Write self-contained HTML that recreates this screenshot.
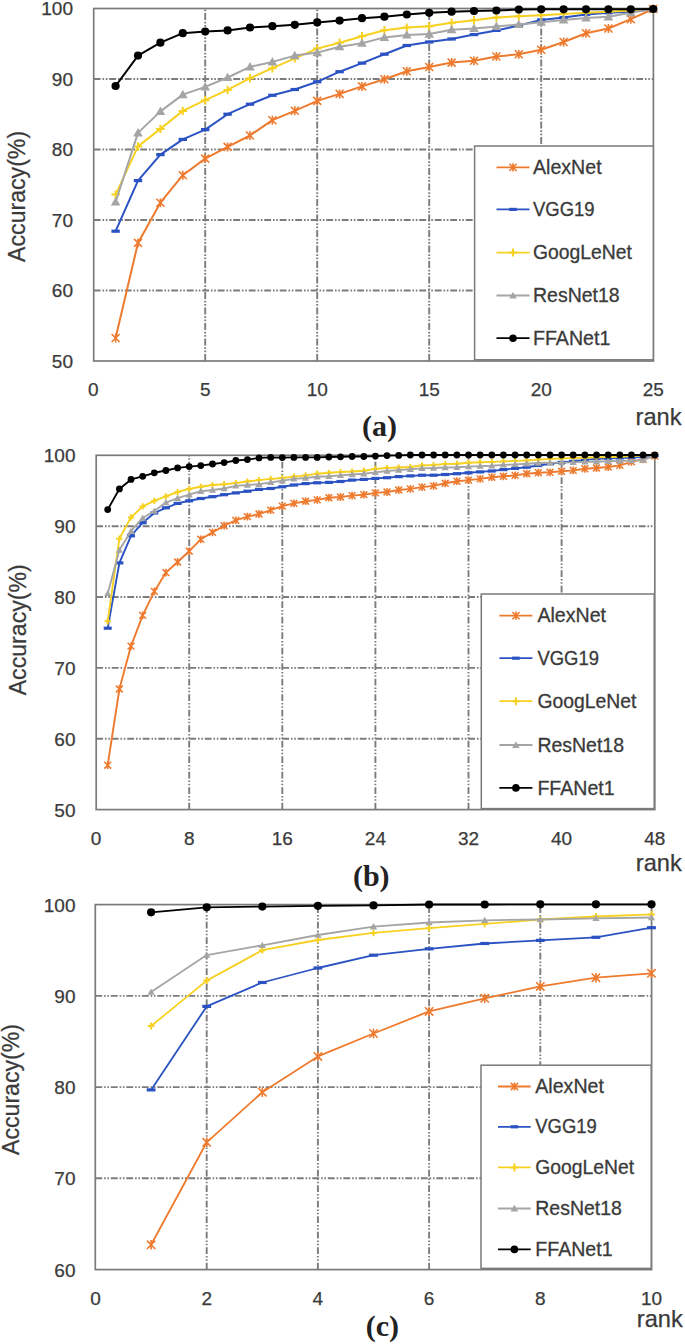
<!DOCTYPE html>
<html><head><meta charset="utf-8"><title>Rank accuracy charts</title><style>
html,body{margin:0;padding:0;background:#fff;}
body{width:685px;height:1344px;overflow:hidden;}
svg{display:block;}
.tk{font-family:"Liberation Sans",sans-serif;font-size:19px;fill:#3a3a3a;stroke:#3a3a3a;stroke-width:0.25px;}
.lg{font-family:"Liberation Sans",sans-serif;font-size:19.8px;fill:#3a3a3a;stroke:#3a3a3a;stroke-width:0.3px;}
.ax{font-family:"Liberation Sans",sans-serif;font-size:24.2px;fill:#3a3a3a;stroke:#3a3a3a;stroke-width:0.25px;}
.rk{font-family:"Liberation Sans",sans-serif;font-size:24px;fill:#3a3a3a;stroke:#3a3a3a;stroke-width:0.25px;}
.cap{font-family:"Liberation Serif",serif;font-size:30px;font-weight:bold;fill:#222;}
</style></head><body>
<svg width="685" height="1344" viewBox="0 0 685 1344">
<rect width="685" height="1344" fill="#fff"/>
<path d="M93.7,79.0H653.4M93.7,149.5H653.4M93.7,220.0H653.4M93.7,290.5H653.4M205.2,361.0V8.5M317.2,361.0V8.5M429.2,361.0V8.5M541.2,361.0V8.5" stroke="#7C7C7C" stroke-width="1.9" stroke-dasharray="6.9 1.9 1.6 1.7 1.6 1.8" fill="none"/>
<rect x="93.7" y="8.5" width="559.7" height="352.5" fill="none" stroke="#7A7A7A" stroke-width="1.7"/>
<polyline points="115.6,338.0 138.0,242.9 160.4,202.7 182.8,175.2 205.2,158.6 227.6,146.9 250.0,135.5 272.4,120.2 294.8,110.8 317.2,100.9 339.6,93.9 362.0,86.4 384.4,79.2 406.8,71.2 429.2,67.0 451.6,62.6 474.0,60.7 496.4,56.5 518.8,54.3 541.2,49.8 563.6,42.0 586.0,33.2 608.4,28.5 630.8,19.2 653.2,9.0" fill="none" stroke="#EE7A2E" stroke-width="2.0" stroke-linejoin="round"/>
<path d="M111.6,334.0L119.6,342.0M111.6,342.0L119.6,334.0M115.6,333.5L115.6,342.5" stroke="#EE7A2E" stroke-width="1.6" fill="none"/>
<path d="M134.0,238.9L142.0,246.9M134.0,246.9L142.0,238.9M138.0,238.4L138.0,247.4" stroke="#EE7A2E" stroke-width="1.6" fill="none"/>
<path d="M156.4,198.7L164.4,206.7M156.4,206.7L164.4,198.7M160.4,198.2L160.4,207.2" stroke="#EE7A2E" stroke-width="1.6" fill="none"/>
<path d="M178.8,171.2L186.8,179.2M178.8,179.2L186.8,171.2M182.8,170.7L182.8,179.7" stroke="#EE7A2E" stroke-width="1.6" fill="none"/>
<path d="M201.2,154.6L209.2,162.6M201.2,162.6L209.2,154.6M205.2,154.1L205.2,163.1" stroke="#EE7A2E" stroke-width="1.6" fill="none"/>
<path d="M223.6,142.9L231.6,150.9M223.6,150.9L231.6,142.9M227.6,142.4L227.6,151.4" stroke="#EE7A2E" stroke-width="1.6" fill="none"/>
<path d="M246.0,131.5L254.0,139.5M246.0,139.5L254.0,131.5M250.0,131.0L250.0,140.0" stroke="#EE7A2E" stroke-width="1.6" fill="none"/>
<path d="M268.4,116.2L276.4,124.2M268.4,124.2L276.4,116.2M272.4,115.7L272.4,124.7" stroke="#EE7A2E" stroke-width="1.6" fill="none"/>
<path d="M290.8,106.8L298.8,114.8M290.8,114.8L298.8,106.8M294.8,106.3L294.8,115.3" stroke="#EE7A2E" stroke-width="1.6" fill="none"/>
<path d="M313.2,96.9L321.2,104.9M313.2,104.9L321.2,96.9M317.2,96.4L317.2,105.4" stroke="#EE7A2E" stroke-width="1.6" fill="none"/>
<path d="M335.6,89.9L343.6,97.9M335.6,97.9L343.6,89.9M339.6,89.4L339.6,98.4" stroke="#EE7A2E" stroke-width="1.6" fill="none"/>
<path d="M358.0,82.4L366.0,90.4M358.0,90.4L366.0,82.4M362.0,81.9L362.0,90.9" stroke="#EE7A2E" stroke-width="1.6" fill="none"/>
<path d="M380.4,75.2L388.4,83.2M380.4,83.2L388.4,75.2M384.4,74.7L384.4,83.7" stroke="#EE7A2E" stroke-width="1.6" fill="none"/>
<path d="M402.8,67.2L410.8,75.2M402.8,75.2L410.8,67.2M406.8,66.7L406.8,75.7" stroke="#EE7A2E" stroke-width="1.6" fill="none"/>
<path d="M425.2,63.0L433.2,71.0M425.2,71.0L433.2,63.0M429.2,62.5L429.2,71.5" stroke="#EE7A2E" stroke-width="1.6" fill="none"/>
<path d="M447.6,58.6L455.6,66.6M447.6,66.6L455.6,58.6M451.6,58.1L451.6,67.1" stroke="#EE7A2E" stroke-width="1.6" fill="none"/>
<path d="M470.0,56.7L478.0,64.7M470.0,64.7L478.0,56.7M474.0,56.2L474.0,65.2" stroke="#EE7A2E" stroke-width="1.6" fill="none"/>
<path d="M492.4,52.5L500.4,60.5M492.4,60.5L500.4,52.5M496.4,52.0L496.4,61.0" stroke="#EE7A2E" stroke-width="1.6" fill="none"/>
<path d="M514.8,50.3L522.8,58.3M514.8,58.3L522.8,50.3M518.8,49.8L518.8,58.8" stroke="#EE7A2E" stroke-width="1.6" fill="none"/>
<path d="M537.2,45.8L545.2,53.8M537.2,53.8L545.2,45.8M541.2,45.3L541.2,54.3" stroke="#EE7A2E" stroke-width="1.6" fill="none"/>
<path d="M559.6,38.0L567.6,46.0M559.6,46.0L567.6,38.0M563.6,37.5L563.6,46.5" stroke="#EE7A2E" stroke-width="1.6" fill="none"/>
<path d="M582.0,29.2L590.0,37.2M582.0,37.2L590.0,29.2M586.0,28.7L586.0,37.7" stroke="#EE7A2E" stroke-width="1.6" fill="none"/>
<path d="M604.4,24.5L612.4,32.5M604.4,32.5L612.4,24.5M608.4,24.0L608.4,33.0" stroke="#EE7A2E" stroke-width="1.6" fill="none"/>
<path d="M626.8,15.2L634.8,23.2M626.8,23.2L634.8,15.2M630.8,14.7L630.8,23.7" stroke="#EE7A2E" stroke-width="1.6" fill="none"/>
<path d="M649.2,5.0L657.2,13.0M649.2,13.0L657.2,5.0M653.2,4.5L653.2,13.5" stroke="#EE7A2E" stroke-width="1.6" fill="none"/>
<polyline points="115.6,231.2 138.0,180.6 160.4,154.6 182.8,139.4 205.2,129.6 227.6,114.2 250.0,104.2 272.4,95.3 294.8,89.5 317.2,81.8 339.6,71.7 362.0,63.1 384.4,54.2 406.8,45.5 429.2,42.0 451.6,39.0 474.0,34.6 496.4,30.4 518.8,25.5 541.2,19.9 563.6,17.5 586.0,14.5 608.4,12.8 630.8,11.7 653.2,9.0" fill="none" stroke="#2A52C3" stroke-width="2.0" stroke-linejoin="round"/>
<rect x="111.4" y="229.6" width="8.4" height="3.2" fill="#2A52C3"/>
<rect x="133.8" y="179.0" width="8.4" height="3.2" fill="#2A52C3"/>
<rect x="156.2" y="153.0" width="8.4" height="3.2" fill="#2A52C3"/>
<rect x="178.6" y="137.8" width="8.4" height="3.2" fill="#2A52C3"/>
<rect x="201.0" y="128.0" width="8.4" height="3.2" fill="#2A52C3"/>
<rect x="223.4" y="112.6" width="8.4" height="3.2" fill="#2A52C3"/>
<rect x="245.8" y="102.6" width="8.4" height="3.2" fill="#2A52C3"/>
<rect x="268.2" y="93.7" width="8.4" height="3.2" fill="#2A52C3"/>
<rect x="290.6" y="87.9" width="8.4" height="3.2" fill="#2A52C3"/>
<rect x="313.0" y="80.2" width="8.4" height="3.2" fill="#2A52C3"/>
<rect x="335.4" y="70.1" width="8.4" height="3.2" fill="#2A52C3"/>
<rect x="357.8" y="61.5" width="8.4" height="3.2" fill="#2A52C3"/>
<rect x="380.2" y="52.6" width="8.4" height="3.2" fill="#2A52C3"/>
<rect x="402.6" y="43.9" width="8.4" height="3.2" fill="#2A52C3"/>
<rect x="425.0" y="40.4" width="8.4" height="3.2" fill="#2A52C3"/>
<rect x="447.4" y="37.4" width="8.4" height="3.2" fill="#2A52C3"/>
<rect x="469.8" y="33.0" width="8.4" height="3.2" fill="#2A52C3"/>
<rect x="492.2" y="28.8" width="8.4" height="3.2" fill="#2A52C3"/>
<rect x="514.6" y="23.9" width="8.4" height="3.2" fill="#2A52C3"/>
<rect x="537.0" y="18.3" width="8.4" height="3.2" fill="#2A52C3"/>
<rect x="559.4" y="15.9" width="8.4" height="3.2" fill="#2A52C3"/>
<rect x="581.8" y="12.9" width="8.4" height="3.2" fill="#2A52C3"/>
<rect x="604.2" y="11.2" width="8.4" height="3.2" fill="#2A52C3"/>
<rect x="626.6" y="10.1" width="8.4" height="3.2" fill="#2A52C3"/>
<rect x="649.0" y="7.4" width="8.4" height="3.2" fill="#2A52C3"/>
<polyline points="115.6,194.6 138.0,146.4 160.4,128.9 182.8,110.9 205.2,100.2 227.6,89.9 250.0,78.2 272.4,68.2 294.8,58.4 317.2,48.6 339.6,42.7 362.0,36.2 384.4,30.2 406.8,27.6 429.2,26.2 451.6,22.7 474.0,20.3 496.4,17.5 518.8,16.2 541.2,15.2 563.6,14.0 586.0,12.8 608.4,11.7 630.8,10.5 653.2,9.0" fill="none" stroke="#F7D122" stroke-width="2.0" stroke-linejoin="round"/>
<path d="M111.4,194.6H119.8M115.6,190.4V198.8" stroke="#F7D122" stroke-width="2" fill="none"/>
<path d="M133.8,146.4H142.2M138.0,142.2V150.6" stroke="#F7D122" stroke-width="2" fill="none"/>
<path d="M156.2,128.9H164.6M160.4,124.7V133.1" stroke="#F7D122" stroke-width="2" fill="none"/>
<path d="M178.6,110.9H187.0M182.8,106.7V115.1" stroke="#F7D122" stroke-width="2" fill="none"/>
<path d="M201.0,100.2H209.4M205.2,96.0V104.4" stroke="#F7D122" stroke-width="2" fill="none"/>
<path d="M223.4,89.9H231.8M227.6,85.7V94.1" stroke="#F7D122" stroke-width="2" fill="none"/>
<path d="M245.8,78.2H254.2M250.0,74.0V82.4" stroke="#F7D122" stroke-width="2" fill="none"/>
<path d="M268.2,68.2H276.6M272.4,64.0V72.4" stroke="#F7D122" stroke-width="2" fill="none"/>
<path d="M290.6,58.4H299.0M294.8,54.2V62.6" stroke="#F7D122" stroke-width="2" fill="none"/>
<path d="M313.0,48.6H321.4M317.2,44.4V52.8" stroke="#F7D122" stroke-width="2" fill="none"/>
<path d="M335.4,42.7H343.8M339.6,38.5V46.9" stroke="#F7D122" stroke-width="2" fill="none"/>
<path d="M357.8,36.2H366.2M362.0,32.0V40.4" stroke="#F7D122" stroke-width="2" fill="none"/>
<path d="M380.2,30.2H388.6M384.4,26.0V34.4" stroke="#F7D122" stroke-width="2" fill="none"/>
<path d="M402.6,27.6H411.0M406.8,23.4V31.8" stroke="#F7D122" stroke-width="2" fill="none"/>
<path d="M425.0,26.2H433.4M429.2,22.0V30.4" stroke="#F7D122" stroke-width="2" fill="none"/>
<path d="M447.4,22.7H455.8M451.6,18.5V26.9" stroke="#F7D122" stroke-width="2" fill="none"/>
<path d="M469.8,20.3H478.2M474.0,16.1V24.5" stroke="#F7D122" stroke-width="2" fill="none"/>
<path d="M492.2,17.5H500.6M496.4,13.3V21.7" stroke="#F7D122" stroke-width="2" fill="none"/>
<path d="M514.6,16.2H523.0M518.8,12.0V20.4" stroke="#F7D122" stroke-width="2" fill="none"/>
<path d="M537.0,15.2H545.4M541.2,11.0V19.4" stroke="#F7D122" stroke-width="2" fill="none"/>
<path d="M559.4,14.0H567.8M563.6,9.8V18.2" stroke="#F7D122" stroke-width="2" fill="none"/>
<path d="M581.8,12.8H590.2M586.0,8.6V17.0" stroke="#F7D122" stroke-width="2" fill="none"/>
<path d="M604.2,11.7H612.6M608.4,7.5V15.9" stroke="#F7D122" stroke-width="2" fill="none"/>
<path d="M626.6,10.5H635.0M630.8,6.3V14.7" stroke="#F7D122" stroke-width="2" fill="none"/>
<path d="M649.0,9.0H657.4M653.2,4.8V13.2" stroke="#F7D122" stroke-width="2" fill="none"/>
<polyline points="115.6,202.0 138.0,132.9 160.4,111.4 182.8,94.6 205.2,86.9 227.6,77.5 250.0,66.8 272.4,61.9 294.8,55.6 317.2,52.6 339.6,46.7 362.0,43.2 384.4,37.4 406.8,35.0 429.2,34.1 451.6,29.7 474.0,28.5 496.4,26.4 518.8,24.5 541.2,22.2 563.6,19.9 586.0,18.0 608.4,16.8 630.8,12.8 653.2,9.0" fill="none" stroke="#A5A5A5" stroke-width="2.0" stroke-linejoin="round"/>
<path d="M115.6,197.2L120.4,205.6L110.8,205.6Z" fill="#A5A5A5"/>
<path d="M138.0,128.1L142.8,136.5L133.2,136.5Z" fill="#A5A5A5"/>
<path d="M160.4,106.6L165.2,115.0L155.6,115.0Z" fill="#A5A5A5"/>
<path d="M182.8,89.8L187.6,98.2L178.0,98.2Z" fill="#A5A5A5"/>
<path d="M205.2,82.1L210.0,90.5L200.4,90.5Z" fill="#A5A5A5"/>
<path d="M227.6,72.7L232.4,81.1L222.8,81.1Z" fill="#A5A5A5"/>
<path d="M250.0,62.0L254.8,70.4L245.2,70.4Z" fill="#A5A5A5"/>
<path d="M272.4,57.1L277.2,65.5L267.6,65.5Z" fill="#A5A5A5"/>
<path d="M294.8,50.8L299.6,59.2L290.0,59.2Z" fill="#A5A5A5"/>
<path d="M317.2,47.8L322.0,56.2L312.4,56.2Z" fill="#A5A5A5"/>
<path d="M339.6,41.9L344.4,50.3L334.8,50.3Z" fill="#A5A5A5"/>
<path d="M362.0,38.4L366.8,46.8L357.2,46.8Z" fill="#A5A5A5"/>
<path d="M384.4,32.6L389.2,41.0L379.6,41.0Z" fill="#A5A5A5"/>
<path d="M406.8,30.2L411.6,38.6L402.0,38.6Z" fill="#A5A5A5"/>
<path d="M429.2,29.3L434.0,37.7L424.4,37.7Z" fill="#A5A5A5"/>
<path d="M451.6,24.9L456.4,33.3L446.8,33.3Z" fill="#A5A5A5"/>
<path d="M474.0,23.7L478.8,32.1L469.2,32.1Z" fill="#A5A5A5"/>
<path d="M496.4,21.6L501.2,30.0L491.6,30.0Z" fill="#A5A5A5"/>
<path d="M518.8,19.7L523.6,28.1L514.0,28.1Z" fill="#A5A5A5"/>
<path d="M541.2,17.4L546.0,25.8L536.4,25.8Z" fill="#A5A5A5"/>
<path d="M563.6,15.1L568.4,23.5L558.8,23.5Z" fill="#A5A5A5"/>
<path d="M586.0,13.2L590.8,21.6L581.2,21.6Z" fill="#A5A5A5"/>
<path d="M608.4,12.0L613.2,20.4L603.6,20.4Z" fill="#A5A5A5"/>
<path d="M630.8,8.0L635.6,16.4L626.0,16.4Z" fill="#A5A5A5"/>
<path d="M653.2,4.2L658.0,12.6L648.4,12.6Z" fill="#A5A5A5"/>
<polyline points="115.6,86.0 138.0,55.6 160.4,42.7 182.8,33.2 205.2,31.5 227.6,30.4 250.0,27.5 272.4,26.2 294.8,24.8 317.2,22.4 339.6,20.6 362.0,18.2 384.4,16.7 406.8,14.5 429.2,12.8 451.6,11.7 474.0,11.0 496.4,10.5 518.8,9.6 541.2,9.3 563.6,9.3 586.0,9.3 608.4,9.3 630.8,9.3 653.2,9.0" fill="none" stroke="#000000" stroke-width="2.0" stroke-linejoin="round"/>
<circle cx="115.6" cy="86.0" r="4.10" fill="#000"/>
<circle cx="138.0" cy="55.6" r="4.10" fill="#000"/>
<circle cx="160.4" cy="42.7" r="4.10" fill="#000"/>
<circle cx="182.8" cy="33.2" r="4.10" fill="#000"/>
<circle cx="205.2" cy="31.5" r="4.10" fill="#000"/>
<circle cx="227.6" cy="30.4" r="4.10" fill="#000"/>
<circle cx="250.0" cy="27.5" r="4.10" fill="#000"/>
<circle cx="272.4" cy="26.2" r="4.10" fill="#000"/>
<circle cx="294.8" cy="24.8" r="4.10" fill="#000"/>
<circle cx="317.2" cy="22.4" r="4.10" fill="#000"/>
<circle cx="339.6" cy="20.6" r="4.10" fill="#000"/>
<circle cx="362.0" cy="18.2" r="4.10" fill="#000"/>
<circle cx="384.4" cy="16.7" r="4.10" fill="#000"/>
<circle cx="406.8" cy="14.5" r="4.10" fill="#000"/>
<circle cx="429.2" cy="12.8" r="4.10" fill="#000"/>
<circle cx="451.6" cy="11.7" r="4.10" fill="#000"/>
<circle cx="474.0" cy="11.0" r="4.10" fill="#000"/>
<circle cx="496.4" cy="10.5" r="4.10" fill="#000"/>
<circle cx="518.8" cy="9.6" r="4.10" fill="#000"/>
<circle cx="541.2" cy="9.3" r="4.10" fill="#000"/>
<circle cx="563.6" cy="9.3" r="4.10" fill="#000"/>
<circle cx="586.0" cy="9.3" r="4.10" fill="#000"/>
<circle cx="608.4" cy="9.3" r="4.10" fill="#000"/>
<circle cx="630.8" cy="9.3" r="4.10" fill="#000"/>
<circle cx="653.2" cy="9.0" r="4.10" fill="#000"/>
<rect x="474.6" y="146" width="178.7" height="213.8" fill="#fff" stroke="#7A7A7A" stroke-width="1.5"/>
<line x1="496.5" y1="167.4" x2="529.5" y2="167.4" stroke="#EE7A2E" stroke-width="1.8"/>
<path d="M509.4,163.8L516.6,171.0M509.4,171.0L516.6,163.8M513.0,163.3L513.0,171.5" stroke="#EE7A2E" stroke-width="1.6" fill="none"/>
<text x="533" y="174.0" class="lg" textLength="68.6" lengthAdjust="spacingAndGlyphs">AlexNet</text>
<line x1="496.5" y1="209.4" x2="529.5" y2="209.4" stroke="#2A52C3" stroke-width="1.8"/>
<rect x="509.2" y="207.8" width="7.6" height="3.2" fill="#2A52C3"/>
<text x="533" y="216.0" class="lg" textLength="61.6" lengthAdjust="spacingAndGlyphs">VGG19</text>
<line x1="496.5" y1="252.6" x2="529.5" y2="252.6" stroke="#F7D122" stroke-width="1.8"/>
<path d="M509.0,252.6H517.0M513.0,248.6V256.6" stroke="#F7D122" stroke-width="2" fill="none"/>
<text x="533" y="259.2" class="lg" textLength="98.9" lengthAdjust="spacingAndGlyphs">GoogLeNet</text>
<line x1="496.5" y1="295.5" x2="529.5" y2="295.5" stroke="#A5A5A5" stroke-width="1.8"/>
<path d="M513.0,291.7L516.8,298.4L509.2,298.4Z" fill="#A5A5A5"/>
<text x="533" y="302.1" class="lg" textLength="86.6" lengthAdjust="spacingAndGlyphs">ResNet18</text>
<line x1="496.5" y1="338.2" x2="529.5" y2="338.2" stroke="#000000" stroke-width="1.8"/>
<circle cx="513.0" cy="338.2" r="3.80" fill="#000"/>
<text x="533" y="344.8" class="lg" textLength="77.3" lengthAdjust="spacingAndGlyphs">FFANet1</text>
<text x="73.0" y="15.4" class="tk" text-anchor="end">100</text>
<text x="73.0" y="85.9" class="tk" text-anchor="end">90</text>
<text x="73.0" y="156.4" class="tk" text-anchor="end">80</text>
<text x="73.0" y="226.9" class="tk" text-anchor="end">70</text>
<text x="73.0" y="297.4" class="tk" text-anchor="end">60</text>
<text x="73.0" y="367.9" class="tk" text-anchor="end">50</text>
<text x="93.2" y="396.2" class="tk" text-anchor="middle">0</text>
<text x="205.2" y="396.2" class="tk" text-anchor="middle">5</text>
<text x="317.2" y="396.2" class="tk" text-anchor="middle">10</text>
<text x="429.2" y="396.2" class="tk" text-anchor="middle">15</text>
<text x="541.2" y="396.2" class="tk" text-anchor="middle">20</text>
<text x="653.2" y="396.2" class="tk" text-anchor="middle">25</text>
<text transform="translate(25.2,196.4) rotate(-90)" class="ax" text-anchor="middle" textLength="131" lengthAdjust="spacingAndGlyphs">Accuracy(%)</text>
<text x="635.6" y="425.1" class="rk" textLength="46" lengthAdjust="spacingAndGlyphs">rank</text>
<text x="362" y="436.3" class="cap">(a)</text>
<path d="M96.2,526.2H654.8M96.2,597.0H654.8M96.2,667.9H654.8M96.2,738.7H654.8M189.2,809.6V455.3M282.3,809.6V455.3M375.4,809.6V455.3M468.5,809.6V455.3M561.6,809.6V455.3" stroke="#7C7C7C" stroke-width="1.9" stroke-dasharray="6.9 1.9 1.6 1.7 1.6 1.8" fill="none"/>
<rect x="96.2" y="455.3" width="558.6" height="354.3" fill="none" stroke="#7A7A7A" stroke-width="1.7"/>
<polyline points="107.7,765.2 119.4,689.0 131.0,646.1 142.7,615.4 154.3,591.4 165.9,572.6 177.6,562.0 189.2,551.2 200.8,539.3 212.5,532.4 224.1,525.7 235.8,520.4 247.4,516.6 259.0,514.0 270.7,510.1 282.3,506.1 293.9,503.4 305.6,501.2 317.2,499.9 328.9,497.7 340.5,497.0 352.1,495.6 363.8,494.7 375.4,492.9 387.0,492.0 398.7,490.0 410.3,488.9 422.0,487.1 433.6,485.9 445.2,483.3 456.9,481.2 468.5,480.1 480.1,478.9 491.8,477.2 503.4,476.3 515.1,475.4 526.7,473.7 538.3,472.7 550.0,472.3 561.6,471.3 573.2,470.4 584.9,468.8 596.5,468.0 608.2,467.0 619.8,465.4 631.4,461.9 643.1,459.3 654.7,456.0" fill="none" stroke="#EE7A2E" stroke-width="1.9" stroke-linejoin="round"/>
<path d="M104.3,761.8L111.1,768.6M104.3,768.6L111.1,761.8M107.7,761.3L107.7,769.1" stroke="#EE7A2E" stroke-width="1.6" fill="none"/>
<path d="M116.0,685.6L122.8,692.4M116.0,692.4L122.8,685.6M119.4,685.1L119.4,692.9" stroke="#EE7A2E" stroke-width="1.6" fill="none"/>
<path d="M127.6,642.7L134.4,649.5M127.6,649.5L134.4,642.7M131.0,642.2L131.0,650.0" stroke="#EE7A2E" stroke-width="1.6" fill="none"/>
<path d="M139.2,612.0L146.1,618.8M139.2,618.8L146.1,612.0M142.7,611.5L142.7,619.3" stroke="#EE7A2E" stroke-width="1.6" fill="none"/>
<path d="M150.9,588.0L157.7,594.8M150.9,594.8L157.7,588.0M154.3,587.5L154.3,595.3" stroke="#EE7A2E" stroke-width="1.6" fill="none"/>
<path d="M162.5,569.2L169.3,576.0M162.5,576.0L169.3,569.2M165.9,568.7L165.9,576.5" stroke="#EE7A2E" stroke-width="1.6" fill="none"/>
<path d="M174.2,558.6L181.0,565.4M174.2,565.4L181.0,558.6M177.6,558.1L177.6,565.9" stroke="#EE7A2E" stroke-width="1.6" fill="none"/>
<path d="M185.8,547.8L192.6,554.6M185.8,554.6L192.6,547.8M189.2,547.3L189.2,555.1" stroke="#EE7A2E" stroke-width="1.6" fill="none"/>
<path d="M197.4,535.9L204.2,542.7M197.4,542.7L204.2,535.9M200.8,535.4L200.8,543.2" stroke="#EE7A2E" stroke-width="1.6" fill="none"/>
<path d="M209.1,529.0L215.9,535.8M209.1,535.8L215.9,529.0M212.5,528.5L212.5,536.3" stroke="#EE7A2E" stroke-width="1.6" fill="none"/>
<path d="M220.7,522.3L227.5,529.1M220.7,529.1L227.5,522.3M224.1,521.8L224.1,529.6" stroke="#EE7A2E" stroke-width="1.6" fill="none"/>
<path d="M232.3,517.0L239.2,523.8M232.3,523.8L239.2,517.0M235.8,516.5L235.8,524.3" stroke="#EE7A2E" stroke-width="1.6" fill="none"/>
<path d="M244.0,513.2L250.8,520.0M244.0,520.0L250.8,513.2M247.4,512.7L247.4,520.5" stroke="#EE7A2E" stroke-width="1.6" fill="none"/>
<path d="M255.6,510.6L262.4,517.4M255.6,517.4L262.4,510.6M259.0,510.1L259.0,517.9" stroke="#EE7A2E" stroke-width="1.6" fill="none"/>
<path d="M267.3,506.7L274.1,513.5M267.3,513.5L274.1,506.7M270.7,506.2L270.7,514.0" stroke="#EE7A2E" stroke-width="1.6" fill="none"/>
<path d="M278.9,502.7L285.7,509.5M278.9,509.5L285.7,502.7M282.3,502.2L282.3,510.0" stroke="#EE7A2E" stroke-width="1.6" fill="none"/>
<path d="M290.5,500.0L297.3,506.8M290.5,506.8L297.3,500.0M293.9,499.5L293.9,507.3" stroke="#EE7A2E" stroke-width="1.6" fill="none"/>
<path d="M302.2,497.8L309.0,504.6M302.2,504.6L309.0,497.8M305.6,497.3L305.6,505.1" stroke="#EE7A2E" stroke-width="1.6" fill="none"/>
<path d="M313.8,496.5L320.6,503.3M313.8,503.3L320.6,496.5M317.2,496.0L317.2,503.8" stroke="#EE7A2E" stroke-width="1.6" fill="none"/>
<path d="M325.5,494.3L332.2,501.1M325.5,501.1L332.2,494.3M328.9,493.8L328.9,501.6" stroke="#EE7A2E" stroke-width="1.6" fill="none"/>
<path d="M337.1,493.6L343.9,500.4M337.1,500.4L343.9,493.6M340.5,493.1L340.5,500.9" stroke="#EE7A2E" stroke-width="1.6" fill="none"/>
<path d="M348.7,492.2L355.5,499.0M348.7,499.0L355.5,492.2M352.1,491.7L352.1,499.5" stroke="#EE7A2E" stroke-width="1.6" fill="none"/>
<path d="M360.4,491.3L367.2,498.1M360.4,498.1L367.2,491.3M363.8,490.8L363.8,498.6" stroke="#EE7A2E" stroke-width="1.6" fill="none"/>
<path d="M372.0,489.5L378.8,496.3M372.0,496.3L378.8,489.5M375.4,489.0L375.4,496.8" stroke="#EE7A2E" stroke-width="1.6" fill="none"/>
<path d="M383.6,488.6L390.4,495.4M383.6,495.4L390.4,488.6M387.0,488.1L387.0,495.9" stroke="#EE7A2E" stroke-width="1.6" fill="none"/>
<path d="M395.3,486.6L402.1,493.4M395.3,493.4L402.1,486.6M398.7,486.1L398.7,493.9" stroke="#EE7A2E" stroke-width="1.6" fill="none"/>
<path d="M406.9,485.5L413.7,492.3M406.9,492.3L413.7,485.5M410.3,485.0L410.3,492.8" stroke="#EE7A2E" stroke-width="1.6" fill="none"/>
<path d="M418.6,483.7L425.4,490.5M418.6,490.5L425.4,483.7M422.0,483.2L422.0,491.0" stroke="#EE7A2E" stroke-width="1.6" fill="none"/>
<path d="M430.2,482.5L437.0,489.3M430.2,489.3L437.0,482.5M433.6,482.0L433.6,489.8" stroke="#EE7A2E" stroke-width="1.6" fill="none"/>
<path d="M441.8,479.9L448.6,486.7M441.8,486.7L448.6,479.9M445.2,479.4L445.2,487.2" stroke="#EE7A2E" stroke-width="1.6" fill="none"/>
<path d="M453.5,477.8L460.3,484.6M453.5,484.6L460.3,477.8M456.9,477.3L456.9,485.1" stroke="#EE7A2E" stroke-width="1.6" fill="none"/>
<path d="M465.1,476.7L471.9,483.5M465.1,483.5L471.9,476.7M468.5,476.2L468.5,484.0" stroke="#EE7A2E" stroke-width="1.6" fill="none"/>
<path d="M476.7,475.5L483.5,482.3M476.7,482.3L483.5,475.5M480.1,475.0L480.1,482.8" stroke="#EE7A2E" stroke-width="1.6" fill="none"/>
<path d="M488.4,473.8L495.2,480.6M488.4,480.6L495.2,473.8M491.8,473.3L491.8,481.1" stroke="#EE7A2E" stroke-width="1.6" fill="none"/>
<path d="M500.0,472.9L506.8,479.7M500.0,479.7L506.8,472.9M503.4,472.4L503.4,480.2" stroke="#EE7A2E" stroke-width="1.6" fill="none"/>
<path d="M511.7,472.0L518.5,478.8M511.7,478.8L518.5,472.0M515.1,471.5L515.1,479.3" stroke="#EE7A2E" stroke-width="1.6" fill="none"/>
<path d="M523.3,470.3L530.1,477.1M523.3,477.1L530.1,470.3M526.7,469.8L526.7,477.6" stroke="#EE7A2E" stroke-width="1.6" fill="none"/>
<path d="M534.9,469.3L541.7,476.1M534.9,476.1L541.7,469.3M538.3,468.8L538.3,476.6" stroke="#EE7A2E" stroke-width="1.6" fill="none"/>
<path d="M546.6,468.9L553.4,475.7M546.6,475.7L553.4,468.9M550.0,468.4L550.0,476.2" stroke="#EE7A2E" stroke-width="1.6" fill="none"/>
<path d="M558.2,467.9L565.0,474.7M558.2,474.7L565.0,467.9M561.6,467.4L561.6,475.2" stroke="#EE7A2E" stroke-width="1.6" fill="none"/>
<path d="M569.8,467.0L576.6,473.8M569.8,473.8L576.6,467.0M573.2,466.5L573.2,474.3" stroke="#EE7A2E" stroke-width="1.6" fill="none"/>
<path d="M581.5,465.4L588.3,472.2M581.5,472.2L588.3,465.4M584.9,464.9L584.9,472.7" stroke="#EE7A2E" stroke-width="1.6" fill="none"/>
<path d="M593.1,464.6L599.9,471.4M593.1,471.4L599.9,464.6M596.5,464.1L596.5,471.9" stroke="#EE7A2E" stroke-width="1.6" fill="none"/>
<path d="M604.8,463.6L611.6,470.4M604.8,470.4L611.6,463.6M608.2,463.1L608.2,470.9" stroke="#EE7A2E" stroke-width="1.6" fill="none"/>
<path d="M616.4,462.0L623.2,468.8M616.4,468.8L623.2,462.0M619.8,461.5L619.8,469.3" stroke="#EE7A2E" stroke-width="1.6" fill="none"/>
<path d="M628.0,458.5L634.8,465.3M628.0,465.3L634.8,458.5M631.4,458.0L631.4,465.8" stroke="#EE7A2E" stroke-width="1.6" fill="none"/>
<path d="M639.7,455.9L646.5,462.7M639.7,462.7L646.5,455.9M643.1,455.4L643.1,463.2" stroke="#EE7A2E" stroke-width="1.6" fill="none"/>
<path d="M651.3,452.6L658.1,459.4M651.3,459.4L658.1,452.6M654.7,452.1L654.7,459.9" stroke="#EE7A2E" stroke-width="1.6" fill="none"/>
<polyline points="107.7,628.2 119.4,562.9 131.0,535.8 142.7,522.7 154.3,513.0 165.9,507.8 177.6,503.4 189.2,500.8 200.8,498.5 212.5,496.7 224.1,494.7 235.8,492.9 247.4,491.2 259.0,489.4 270.7,488.5 282.3,486.8 293.9,485.0 305.6,483.6 317.2,482.8 328.9,482.4 340.5,481.5 352.1,480.1 363.8,479.4 375.4,478.4 387.0,477.7 398.7,476.6 410.3,475.9 422.0,475.2 433.6,475.2 445.2,474.5 456.9,473.7 468.5,472.8 480.1,471.9 491.8,471.0 503.4,469.6 515.1,468.4 526.7,467.2 538.3,465.5 550.0,463.7 561.6,462.4 573.2,461.3 584.9,459.9 596.5,458.7 608.2,458.4 619.8,458.0 631.4,457.5 643.1,456.8 654.7,455.5" fill="none" stroke="#2A52C3" stroke-width="1.9" stroke-linejoin="round"/>
<rect x="103.7" y="626.6" width="8.0" height="3.2" fill="#2A52C3"/>
<rect x="115.4" y="561.3" width="8.0" height="3.2" fill="#2A52C3"/>
<rect x="127.0" y="534.2" width="8.0" height="3.2" fill="#2A52C3"/>
<rect x="138.7" y="521.1" width="8.0" height="3.2" fill="#2A52C3"/>
<rect x="150.3" y="511.4" width="8.0" height="3.2" fill="#2A52C3"/>
<rect x="161.9" y="506.2" width="8.0" height="3.2" fill="#2A52C3"/>
<rect x="173.6" y="501.8" width="8.0" height="3.2" fill="#2A52C3"/>
<rect x="185.2" y="499.2" width="8.0" height="3.2" fill="#2A52C3"/>
<rect x="196.8" y="496.9" width="8.0" height="3.2" fill="#2A52C3"/>
<rect x="208.5" y="495.1" width="8.0" height="3.2" fill="#2A52C3"/>
<rect x="220.1" y="493.1" width="8.0" height="3.2" fill="#2A52C3"/>
<rect x="231.8" y="491.3" width="8.0" height="3.2" fill="#2A52C3"/>
<rect x="243.4" y="489.6" width="8.0" height="3.2" fill="#2A52C3"/>
<rect x="255.0" y="487.8" width="8.0" height="3.2" fill="#2A52C3"/>
<rect x="266.7" y="486.9" width="8.0" height="3.2" fill="#2A52C3"/>
<rect x="278.3" y="485.2" width="8.0" height="3.2" fill="#2A52C3"/>
<rect x="289.9" y="483.4" width="8.0" height="3.2" fill="#2A52C3"/>
<rect x="301.6" y="482.0" width="8.0" height="3.2" fill="#2A52C3"/>
<rect x="313.2" y="481.2" width="8.0" height="3.2" fill="#2A52C3"/>
<rect x="324.9" y="480.8" width="8.0" height="3.2" fill="#2A52C3"/>
<rect x="336.5" y="479.9" width="8.0" height="3.2" fill="#2A52C3"/>
<rect x="348.1" y="478.5" width="8.0" height="3.2" fill="#2A52C3"/>
<rect x="359.8" y="477.8" width="8.0" height="3.2" fill="#2A52C3"/>
<rect x="371.4" y="476.8" width="8.0" height="3.2" fill="#2A52C3"/>
<rect x="383.0" y="476.1" width="8.0" height="3.2" fill="#2A52C3"/>
<rect x="394.7" y="475.0" width="8.0" height="3.2" fill="#2A52C3"/>
<rect x="406.3" y="474.3" width="8.0" height="3.2" fill="#2A52C3"/>
<rect x="418.0" y="473.6" width="8.0" height="3.2" fill="#2A52C3"/>
<rect x="429.6" y="473.6" width="8.0" height="3.2" fill="#2A52C3"/>
<rect x="441.2" y="472.9" width="8.0" height="3.2" fill="#2A52C3"/>
<rect x="452.9" y="472.1" width="8.0" height="3.2" fill="#2A52C3"/>
<rect x="464.5" y="471.2" width="8.0" height="3.2" fill="#2A52C3"/>
<rect x="476.1" y="470.3" width="8.0" height="3.2" fill="#2A52C3"/>
<rect x="487.8" y="469.4" width="8.0" height="3.2" fill="#2A52C3"/>
<rect x="499.4" y="468.0" width="8.0" height="3.2" fill="#2A52C3"/>
<rect x="511.1" y="466.8" width="8.0" height="3.2" fill="#2A52C3"/>
<rect x="522.7" y="465.6" width="8.0" height="3.2" fill="#2A52C3"/>
<rect x="534.3" y="463.9" width="8.0" height="3.2" fill="#2A52C3"/>
<rect x="546.0" y="462.1" width="8.0" height="3.2" fill="#2A52C3"/>
<rect x="557.6" y="460.8" width="8.0" height="3.2" fill="#2A52C3"/>
<rect x="569.2" y="459.7" width="8.0" height="3.2" fill="#2A52C3"/>
<rect x="580.9" y="458.3" width="8.0" height="3.2" fill="#2A52C3"/>
<rect x="592.5" y="457.1" width="8.0" height="3.2" fill="#2A52C3"/>
<rect x="604.2" y="456.8" width="8.0" height="3.2" fill="#2A52C3"/>
<rect x="615.8" y="456.4" width="8.0" height="3.2" fill="#2A52C3"/>
<rect x="627.4" y="455.9" width="8.0" height="3.2" fill="#2A52C3"/>
<rect x="639.1" y="455.2" width="8.0" height="3.2" fill="#2A52C3"/>
<rect x="650.7" y="453.9" width="8.0" height="3.2" fill="#2A52C3"/>
<polyline points="107.7,621.2 119.4,538.7 131.0,517.4 142.7,506.4 154.3,500.8 165.9,496.4 177.6,492.0 189.2,488.9 200.8,486.8 212.5,485.0 224.1,484.2 235.8,483.0 247.4,481.5 259.0,480.1 270.7,478.9 282.3,478.0 293.9,476.6 305.6,475.4 317.2,473.7 328.9,472.8 340.5,472.0 352.1,471.5 363.8,470.7 375.4,468.9 387.0,468.0 398.7,467.5 410.3,467.0 422.0,465.4 433.6,465.0 445.2,464.0 456.9,463.8 468.5,462.8 480.1,462.3 491.8,461.9 503.4,461.4 515.1,460.9 526.7,460.5 538.3,459.6 550.0,459.0 561.6,458.4 573.2,458.0 584.9,457.7 596.5,457.3 608.2,457.1 619.8,456.7 631.4,456.1 643.1,455.6 654.7,455.0" fill="none" stroke="#F7D122" stroke-width="1.9" stroke-linejoin="round"/>
<path d="M104.6,621.2H110.9M107.7,618.1V624.4" stroke="#F7D122" stroke-width="2" fill="none"/>
<path d="M116.2,538.7H122.5M119.4,535.6V541.9" stroke="#F7D122" stroke-width="2" fill="none"/>
<path d="M127.9,517.4H134.2M131.0,514.2V520.5" stroke="#F7D122" stroke-width="2" fill="none"/>
<path d="M139.5,506.4H145.8M142.7,503.2V509.5" stroke="#F7D122" stroke-width="2" fill="none"/>
<path d="M151.1,500.8H157.4M154.3,497.7V503.9" stroke="#F7D122" stroke-width="2" fill="none"/>
<path d="M162.8,496.4H169.1M165.9,493.2V499.5" stroke="#F7D122" stroke-width="2" fill="none"/>
<path d="M174.4,492.0H180.7M177.6,488.9V495.1" stroke="#F7D122" stroke-width="2" fill="none"/>
<path d="M186.0,488.9H192.3M189.2,485.8V492.0" stroke="#F7D122" stroke-width="2" fill="none"/>
<path d="M197.7,486.8H204.0M200.8,483.7V489.9" stroke="#F7D122" stroke-width="2" fill="none"/>
<path d="M209.3,485.0H215.6M212.5,481.9V488.1" stroke="#F7D122" stroke-width="2" fill="none"/>
<path d="M221.0,484.2H227.3M224.1,481.1V487.3" stroke="#F7D122" stroke-width="2" fill="none"/>
<path d="M232.6,483.0H238.9M235.8,479.9V486.1" stroke="#F7D122" stroke-width="2" fill="none"/>
<path d="M244.2,481.5H250.5M247.4,478.4V484.6" stroke="#F7D122" stroke-width="2" fill="none"/>
<path d="M255.9,480.1H262.2M259.0,477.0V483.2" stroke="#F7D122" stroke-width="2" fill="none"/>
<path d="M267.5,478.9H273.8M270.7,475.8V482.0" stroke="#F7D122" stroke-width="2" fill="none"/>
<path d="M279.2,478.0H285.4M282.3,474.9V481.1" stroke="#F7D122" stroke-width="2" fill="none"/>
<path d="M290.8,476.6H297.1M293.9,473.5V479.8" stroke="#F7D122" stroke-width="2" fill="none"/>
<path d="M302.4,475.4H308.7M305.6,472.2V478.5" stroke="#F7D122" stroke-width="2" fill="none"/>
<path d="M314.1,473.7H320.4M317.2,470.6V476.8" stroke="#F7D122" stroke-width="2" fill="none"/>
<path d="M325.7,472.8H332.0M328.9,469.7V475.9" stroke="#F7D122" stroke-width="2" fill="none"/>
<path d="M337.3,472.0H343.6M340.5,468.9V475.1" stroke="#F7D122" stroke-width="2" fill="none"/>
<path d="M349.0,471.5H355.3M352.1,468.4V474.6" stroke="#F7D122" stroke-width="2" fill="none"/>
<path d="M360.6,470.7H366.9M363.8,467.6V473.8" stroke="#F7D122" stroke-width="2" fill="none"/>
<path d="M372.2,468.9H378.5M375.4,465.8V472.0" stroke="#F7D122" stroke-width="2" fill="none"/>
<path d="M383.9,468.0H390.2M387.0,464.9V471.1" stroke="#F7D122" stroke-width="2" fill="none"/>
<path d="M395.5,467.5H401.8M398.7,464.4V470.6" stroke="#F7D122" stroke-width="2" fill="none"/>
<path d="M407.2,467.0H413.5M410.3,463.9V470.1" stroke="#F7D122" stroke-width="2" fill="none"/>
<path d="M418.8,465.4H425.1M422.0,462.2V468.5" stroke="#F7D122" stroke-width="2" fill="none"/>
<path d="M430.4,465.0H436.7M433.6,461.9V468.1" stroke="#F7D122" stroke-width="2" fill="none"/>
<path d="M442.1,464.0H448.4M445.2,460.9V467.1" stroke="#F7D122" stroke-width="2" fill="none"/>
<path d="M453.7,463.8H460.0M456.9,460.7V466.9" stroke="#F7D122" stroke-width="2" fill="none"/>
<path d="M465.4,462.8H471.6M468.5,459.7V465.9" stroke="#F7D122" stroke-width="2" fill="none"/>
<path d="M477.0,462.3H483.3M480.1,459.2V465.4" stroke="#F7D122" stroke-width="2" fill="none"/>
<path d="M488.6,461.9H494.9M491.8,458.8V465.0" stroke="#F7D122" stroke-width="2" fill="none"/>
<path d="M500.3,461.4H506.6M503.4,458.2V464.5" stroke="#F7D122" stroke-width="2" fill="none"/>
<path d="M511.9,460.9H518.2M515.1,457.8V464.0" stroke="#F7D122" stroke-width="2" fill="none"/>
<path d="M523.5,460.5H529.8M526.7,457.4V463.6" stroke="#F7D122" stroke-width="2" fill="none"/>
<path d="M535.2,459.6H541.5M538.3,456.5V462.8" stroke="#F7D122" stroke-width="2" fill="none"/>
<path d="M546.8,459.0H553.1M550.0,455.9V462.1" stroke="#F7D122" stroke-width="2" fill="none"/>
<path d="M558.5,458.4H564.8M561.6,455.2V461.5" stroke="#F7D122" stroke-width="2" fill="none"/>
<path d="M570.1,458.0H576.4M573.2,454.9V461.1" stroke="#F7D122" stroke-width="2" fill="none"/>
<path d="M581.7,457.7H588.0M584.9,454.6V460.8" stroke="#F7D122" stroke-width="2" fill="none"/>
<path d="M593.4,457.3H599.7M596.5,454.2V460.4" stroke="#F7D122" stroke-width="2" fill="none"/>
<path d="M605.0,457.1H611.3M608.2,454.0V460.2" stroke="#F7D122" stroke-width="2" fill="none"/>
<path d="M616.6,456.7H622.9M619.8,453.6V459.8" stroke="#F7D122" stroke-width="2" fill="none"/>
<path d="M628.3,456.1H634.6M631.4,453.0V459.2" stroke="#F7D122" stroke-width="2" fill="none"/>
<path d="M639.9,455.6H646.2M643.1,452.5V458.8" stroke="#F7D122" stroke-width="2" fill="none"/>
<path d="M651.6,455.0H657.9M654.7,451.9V458.1" stroke="#F7D122" stroke-width="2" fill="none"/>
<polyline points="107.7,593.6 119.4,550.1 131.0,531.2 142.7,518.0 154.3,511.0 165.9,502.6 177.6,498.2 189.2,494.7 200.8,491.2 212.5,490.0 224.1,488.5 235.8,485.9 247.4,485.0 259.0,484.2 270.7,482.4 282.3,480.7 293.9,478.9 305.6,478.0 317.2,476.8 328.9,476.3 340.5,475.4 352.1,474.5 363.8,473.7 375.4,472.4 387.0,471.0 398.7,470.1 410.3,469.3 422.0,468.4 433.6,468.0 445.2,467.5 456.9,467.2 468.5,466.6 480.1,466.1 491.8,465.8 503.4,464.9 515.1,464.4 526.7,463.7 538.3,463.0 550.0,462.8 561.6,462.6 573.2,462.4 584.9,461.8 596.5,461.8 608.2,461.3 619.8,461.0 631.4,460.6 643.1,460.0 654.7,455.5" fill="none" stroke="#A5A5A5" stroke-width="1.9" stroke-linejoin="round"/>
<path d="M107.7,590.0L111.3,596.3L104.1,596.3Z" fill="#A5A5A5"/>
<path d="M119.4,546.5L123.0,552.8L115.8,552.8Z" fill="#A5A5A5"/>
<path d="M131.0,527.6L134.6,533.9L127.4,533.9Z" fill="#A5A5A5"/>
<path d="M142.7,514.4L146.2,520.7L139.1,520.7Z" fill="#A5A5A5"/>
<path d="M154.3,507.4L157.9,513.7L150.7,513.7Z" fill="#A5A5A5"/>
<path d="M165.9,499.0L169.5,505.3L162.3,505.3Z" fill="#A5A5A5"/>
<path d="M177.6,494.6L181.2,500.9L174.0,500.9Z" fill="#A5A5A5"/>
<path d="M189.2,491.1L192.8,497.4L185.6,497.4Z" fill="#A5A5A5"/>
<path d="M200.8,487.6L204.4,493.9L197.2,493.9Z" fill="#A5A5A5"/>
<path d="M212.5,486.4L216.1,492.7L208.9,492.7Z" fill="#A5A5A5"/>
<path d="M224.1,484.9L227.7,491.2L220.5,491.2Z" fill="#A5A5A5"/>
<path d="M235.8,482.3L239.3,488.6L232.2,488.6Z" fill="#A5A5A5"/>
<path d="M247.4,481.4L251.0,487.7L243.8,487.7Z" fill="#A5A5A5"/>
<path d="M259.0,480.6L262.6,486.9L255.4,486.9Z" fill="#A5A5A5"/>
<path d="M270.7,478.8L274.3,485.1L267.1,485.1Z" fill="#A5A5A5"/>
<path d="M282.3,477.1L285.9,483.4L278.7,483.4Z" fill="#A5A5A5"/>
<path d="M293.9,475.3L297.5,481.6L290.3,481.6Z" fill="#A5A5A5"/>
<path d="M305.6,474.4L309.2,480.7L302.0,480.7Z" fill="#A5A5A5"/>
<path d="M317.2,473.2L320.8,479.5L313.6,479.5Z" fill="#A5A5A5"/>
<path d="M328.9,472.7L332.5,479.0L325.2,479.0Z" fill="#A5A5A5"/>
<path d="M340.5,471.8L344.1,478.1L336.9,478.1Z" fill="#A5A5A5"/>
<path d="M352.1,470.9L355.7,477.2L348.5,477.2Z" fill="#A5A5A5"/>
<path d="M363.8,470.1L367.4,476.4L360.2,476.4Z" fill="#A5A5A5"/>
<path d="M375.4,468.8L379.0,475.1L371.8,475.1Z" fill="#A5A5A5"/>
<path d="M387.0,467.4L390.6,473.7L383.4,473.7Z" fill="#A5A5A5"/>
<path d="M398.7,466.5L402.3,472.8L395.1,472.8Z" fill="#A5A5A5"/>
<path d="M410.3,465.7L413.9,472.0L406.7,472.0Z" fill="#A5A5A5"/>
<path d="M422.0,464.8L425.6,471.1L418.4,471.1Z" fill="#A5A5A5"/>
<path d="M433.6,464.4L437.2,470.7L430.0,470.7Z" fill="#A5A5A5"/>
<path d="M445.2,463.9L448.8,470.2L441.6,470.2Z" fill="#A5A5A5"/>
<path d="M456.9,463.6L460.5,469.9L453.3,469.9Z" fill="#A5A5A5"/>
<path d="M468.5,463.0L472.1,469.3L464.9,469.3Z" fill="#A5A5A5"/>
<path d="M480.1,462.5L483.7,468.8L476.5,468.8Z" fill="#A5A5A5"/>
<path d="M491.8,462.2L495.4,468.5L488.2,468.5Z" fill="#A5A5A5"/>
<path d="M503.4,461.3L507.0,467.6L499.8,467.6Z" fill="#A5A5A5"/>
<path d="M515.1,460.8L518.7,467.1L511.5,467.1Z" fill="#A5A5A5"/>
<path d="M526.7,460.1L530.3,466.4L523.1,466.4Z" fill="#A5A5A5"/>
<path d="M538.3,459.4L541.9,465.7L534.7,465.7Z" fill="#A5A5A5"/>
<path d="M550.0,459.2L553.6,465.5L546.4,465.5Z" fill="#A5A5A5"/>
<path d="M561.6,459.0L565.2,465.3L558.0,465.3Z" fill="#A5A5A5"/>
<path d="M573.2,458.8L576.8,465.1L569.6,465.1Z" fill="#A5A5A5"/>
<path d="M584.9,458.2L588.5,464.5L581.3,464.5Z" fill="#A5A5A5"/>
<path d="M596.5,458.2L600.1,464.5L592.9,464.5Z" fill="#A5A5A5"/>
<path d="M608.2,457.7L611.8,464.0L604.6,464.0Z" fill="#A5A5A5"/>
<path d="M619.8,457.4L623.4,463.7L616.2,463.7Z" fill="#A5A5A5"/>
<path d="M631.4,457.0L635.0,463.3L627.8,463.3Z" fill="#A5A5A5"/>
<path d="M643.1,456.4L646.7,462.7L639.5,462.7Z" fill="#A5A5A5"/>
<path d="M654.7,451.9L658.3,458.2L651.1,458.2Z" fill="#A5A5A5"/>
<polyline points="107.7,509.6 119.4,488.9 131.0,479.4 142.7,476.3 154.3,472.8 165.9,470.5 177.6,467.9 189.2,466.6 200.8,465.6 212.5,464.0 224.1,462.6 235.8,460.5 247.4,459.6 259.0,457.9 270.7,457.4 282.3,457.6 293.9,457.4 305.6,457.4 317.2,457.4 328.9,457.0 340.5,456.8 352.1,456.5 363.8,456.5 375.4,456.1 387.0,455.6 398.7,455.4 410.3,455.0 422.0,455.0 433.6,455.0 445.2,455.0 456.9,455.0 468.5,455.0 480.1,455.0 491.8,455.0 503.4,455.0 515.1,455.0 526.7,455.0 538.3,455.0 550.0,455.0 561.6,455.0 573.2,455.0 584.9,455.0 596.5,455.0 608.2,455.0 619.8,455.0 631.4,455.0 643.1,455.0 654.7,455.0" fill="none" stroke="#000000" stroke-width="1.9" stroke-linejoin="round"/>
<circle cx="107.7" cy="509.6" r="3.40" fill="#000"/>
<circle cx="119.4" cy="488.9" r="3.40" fill="#000"/>
<circle cx="131.0" cy="479.4" r="3.40" fill="#000"/>
<circle cx="142.7" cy="476.3" r="3.40" fill="#000"/>
<circle cx="154.3" cy="472.8" r="3.40" fill="#000"/>
<circle cx="165.9" cy="470.5" r="3.40" fill="#000"/>
<circle cx="177.6" cy="467.9" r="3.40" fill="#000"/>
<circle cx="189.2" cy="466.6" r="3.40" fill="#000"/>
<circle cx="200.8" cy="465.6" r="3.40" fill="#000"/>
<circle cx="212.5" cy="464.0" r="3.40" fill="#000"/>
<circle cx="224.1" cy="462.6" r="3.40" fill="#000"/>
<circle cx="235.8" cy="460.5" r="3.40" fill="#000"/>
<circle cx="247.4" cy="459.6" r="3.40" fill="#000"/>
<circle cx="259.0" cy="457.9" r="3.40" fill="#000"/>
<circle cx="270.7" cy="457.4" r="3.40" fill="#000"/>
<circle cx="282.3" cy="457.6" r="3.40" fill="#000"/>
<circle cx="293.9" cy="457.4" r="3.40" fill="#000"/>
<circle cx="305.6" cy="457.4" r="3.40" fill="#000"/>
<circle cx="317.2" cy="457.4" r="3.40" fill="#000"/>
<circle cx="328.9" cy="457.0" r="3.40" fill="#000"/>
<circle cx="340.5" cy="456.8" r="3.40" fill="#000"/>
<circle cx="352.1" cy="456.5" r="3.40" fill="#000"/>
<circle cx="363.8" cy="456.5" r="3.40" fill="#000"/>
<circle cx="375.4" cy="456.1" r="3.40" fill="#000"/>
<circle cx="387.0" cy="455.6" r="3.40" fill="#000"/>
<circle cx="398.7" cy="455.4" r="3.40" fill="#000"/>
<circle cx="410.3" cy="455.0" r="3.40" fill="#000"/>
<circle cx="422.0" cy="455.0" r="3.40" fill="#000"/>
<circle cx="433.6" cy="455.0" r="3.40" fill="#000"/>
<circle cx="445.2" cy="455.0" r="3.40" fill="#000"/>
<circle cx="456.9" cy="455.0" r="3.40" fill="#000"/>
<circle cx="468.5" cy="455.0" r="3.40" fill="#000"/>
<circle cx="480.1" cy="455.0" r="3.40" fill="#000"/>
<circle cx="491.8" cy="455.0" r="3.40" fill="#000"/>
<circle cx="503.4" cy="455.0" r="3.40" fill="#000"/>
<circle cx="515.1" cy="455.0" r="3.40" fill="#000"/>
<circle cx="526.7" cy="455.0" r="3.40" fill="#000"/>
<circle cx="538.3" cy="455.0" r="3.40" fill="#000"/>
<circle cx="550.0" cy="455.0" r="3.40" fill="#000"/>
<circle cx="561.6" cy="455.0" r="3.40" fill="#000"/>
<circle cx="573.2" cy="455.0" r="3.40" fill="#000"/>
<circle cx="584.9" cy="455.0" r="3.40" fill="#000"/>
<circle cx="596.5" cy="455.0" r="3.40" fill="#000"/>
<circle cx="608.2" cy="455.0" r="3.40" fill="#000"/>
<circle cx="619.8" cy="455.0" r="3.40" fill="#000"/>
<circle cx="631.4" cy="455.0" r="3.40" fill="#000"/>
<circle cx="643.1" cy="455.0" r="3.40" fill="#000"/>
<circle cx="654.7" cy="455.0" r="3.40" fill="#000"/>
<rect x="481.3" y="594" width="172.9" height="214.6" fill="#fff" stroke="#7A7A7A" stroke-width="1.5"/>
<line x1="499.4" y1="615.6" x2="532.4" y2="615.6" stroke="#EE7A2E" stroke-width="1.8"/>
<path d="M512.3,612.0L519.5,619.2M512.3,619.2L519.5,612.0M515.9,611.5L515.9,619.7" stroke="#EE7A2E" stroke-width="1.6" fill="none"/>
<text x="537.4" y="622.2" class="lg" textLength="68.6" lengthAdjust="spacingAndGlyphs">AlexNet</text>
<line x1="499.4" y1="658.2" x2="532.4" y2="658.2" stroke="#2A52C3" stroke-width="1.8"/>
<rect x="512.1" y="656.6" width="7.6" height="3.2" fill="#2A52C3"/>
<text x="537.4" y="664.8" class="lg" textLength="61.6" lengthAdjust="spacingAndGlyphs">VGG19</text>
<line x1="499.4" y1="701.2" x2="532.4" y2="701.2" stroke="#F7D122" stroke-width="1.8"/>
<path d="M511.9,701.2H519.9M515.9,697.2V705.2" stroke="#F7D122" stroke-width="2" fill="none"/>
<text x="537.4" y="707.8" class="lg" textLength="98.9" lengthAdjust="spacingAndGlyphs">GoogLeNet</text>
<line x1="499.4" y1="745" x2="532.4" y2="745" stroke="#A5A5A5" stroke-width="1.8"/>
<path d="M515.9,741.2L519.7,747.9L512.1,747.9Z" fill="#A5A5A5"/>
<text x="537.4" y="751.6" class="lg" textLength="86.6" lengthAdjust="spacingAndGlyphs">ResNet18</text>
<line x1="499.4" y1="787.9" x2="532.4" y2="787.9" stroke="#000000" stroke-width="1.8"/>
<circle cx="515.9" cy="787.9" r="3.80" fill="#000"/>
<text x="537.4" y="794.5" class="lg" textLength="77.3" lengthAdjust="spacingAndGlyphs">FFANet1</text>
<text x="75.5" y="462.2" class="tk" text-anchor="end">100</text>
<text x="75.5" y="533.1" class="tk" text-anchor="end">90</text>
<text x="75.5" y="603.9" class="tk" text-anchor="end">80</text>
<text x="75.5" y="674.8" class="tk" text-anchor="end">70</text>
<text x="75.5" y="745.6" class="tk" text-anchor="end">60</text>
<text x="75.5" y="816.5" class="tk" text-anchor="end">50</text>
<text x="96.1" y="844.5" class="tk" text-anchor="middle">0</text>
<text x="189.2" y="844.5" class="tk" text-anchor="middle">8</text>
<text x="282.3" y="844.5" class="tk" text-anchor="middle">16</text>
<text x="375.4" y="844.5" class="tk" text-anchor="middle">24</text>
<text x="468.5" y="844.5" class="tk" text-anchor="middle">32</text>
<text x="561.6" y="844.5" class="tk" text-anchor="middle">40</text>
<text x="654.7" y="844.5" class="tk" text-anchor="middle">48</text>
<text transform="translate(25.6,629.8) rotate(-90)" class="ax" text-anchor="middle" textLength="131" lengthAdjust="spacingAndGlyphs">Accuracy(%)</text>
<text x="635.8" y="871" class="rk" textLength="46" lengthAdjust="spacingAndGlyphs">rank</text>
<text x="352.9" y="885.7" class="cap">(b)</text>
<path d="M95.3,995.9H651.6M95.3,1087.1H651.6M95.3,1178.3H651.6M206.7,1269.6V904.6M317.9,1269.6V904.6M429.1,1269.6V904.6M540.3,1269.6V904.6" stroke="#7C7C7C" stroke-width="1.9" stroke-dasharray="6.9 1.9 1.6 1.7 1.6 1.8" fill="none"/>
<rect x="95.3" y="904.6" width="556.3" height="365.0" fill="none" stroke="#7A7A7A" stroke-width="1.7"/>
<polyline points="151.1,1244.8 206.7,1142.3 262.3,1092.2 317.9,1056.4 373.5,1033.5 429.1,1011.4 484.7,998.3 540.3,986.4 595.9,977.7 651.5,973.3" fill="none" stroke="#EE7A2E" stroke-width="1.8" stroke-linejoin="round"/>
<path d="M146.9,1240.6L155.3,1249.0M146.9,1249.0L155.3,1240.6M151.1,1240.1L151.1,1249.5" stroke="#EE7A2E" stroke-width="1.6" fill="none"/>
<path d="M202.5,1138.1L210.9,1146.5M202.5,1146.5L210.9,1138.1M206.7,1137.6L206.7,1147.0" stroke="#EE7A2E" stroke-width="1.6" fill="none"/>
<path d="M258.1,1088.0L266.5,1096.4M258.1,1096.4L266.5,1088.0M262.3,1087.5L262.3,1096.9" stroke="#EE7A2E" stroke-width="1.6" fill="none"/>
<path d="M313.7,1052.2L322.1,1060.6M313.7,1060.6L322.1,1052.2M317.9,1051.7L317.9,1061.1" stroke="#EE7A2E" stroke-width="1.6" fill="none"/>
<path d="M369.3,1029.3L377.7,1037.7M369.3,1037.7L377.7,1029.3M373.5,1028.8L373.5,1038.2" stroke="#EE7A2E" stroke-width="1.6" fill="none"/>
<path d="M424.9,1007.2L433.3,1015.6M424.9,1015.6L433.3,1007.2M429.1,1006.7L429.1,1016.1" stroke="#EE7A2E" stroke-width="1.6" fill="none"/>
<path d="M480.5,994.1L488.9,1002.5M480.5,1002.5L488.9,994.1M484.7,993.6L484.7,1003.0" stroke="#EE7A2E" stroke-width="1.6" fill="none"/>
<path d="M536.1,982.2L544.5,990.6M536.1,990.6L544.5,982.2M540.3,981.7L540.3,991.1" stroke="#EE7A2E" stroke-width="1.6" fill="none"/>
<path d="M591.7,973.5L600.1,981.9M591.7,981.9L600.1,973.5M595.9,973.0L595.9,982.4" stroke="#EE7A2E" stroke-width="1.6" fill="none"/>
<path d="M647.3,969.1L655.7,977.5M647.3,977.5L655.7,969.1M651.5,968.6L651.5,978.0" stroke="#EE7A2E" stroke-width="1.6" fill="none"/>
<polyline points="151.1,1089.9 206.7,1006.4 262.3,982.5 317.9,968.0 373.5,955.2 429.1,948.8 484.7,943.5 540.3,940.4 595.9,937.3 651.5,927.7" fill="none" stroke="#2A52C3" stroke-width="1.8" stroke-linejoin="round"/>
<rect x="146.7" y="1088.3" width="8.8" height="3.2" fill="#2A52C3"/>
<rect x="202.3" y="1004.8" width="8.8" height="3.2" fill="#2A52C3"/>
<rect x="257.9" y="980.9" width="8.8" height="3.2" fill="#2A52C3"/>
<rect x="313.5" y="966.4" width="8.8" height="3.2" fill="#2A52C3"/>
<rect x="369.1" y="953.6" width="8.8" height="3.2" fill="#2A52C3"/>
<rect x="424.7" y="947.2" width="8.8" height="3.2" fill="#2A52C3"/>
<rect x="480.3" y="941.9" width="8.8" height="3.2" fill="#2A52C3"/>
<rect x="535.9" y="938.8" width="8.8" height="3.2" fill="#2A52C3"/>
<rect x="591.5" y="935.7" width="8.8" height="3.2" fill="#2A52C3"/>
<rect x="647.1" y="926.1" width="8.8" height="3.2" fill="#2A52C3"/>
<polyline points="151.1,1026.0 206.7,980.6 262.3,950.2 317.9,940.0 373.5,932.9 429.1,928.2 484.7,923.8 540.3,919.5 595.9,916.5 651.5,914.4" fill="none" stroke="#F7D122" stroke-width="1.8" stroke-linejoin="round"/>
<path d="M147.7,1026.0H154.5M151.1,1022.6V1029.4" stroke="#F7D122" stroke-width="2" fill="none"/>
<path d="M203.3,980.6H210.1M206.7,977.2V984.0" stroke="#F7D122" stroke-width="2" fill="none"/>
<path d="M258.9,950.2H265.7M262.3,946.8V953.6" stroke="#F7D122" stroke-width="2" fill="none"/>
<path d="M314.5,940.0H321.3M317.9,936.6V943.4" stroke="#F7D122" stroke-width="2" fill="none"/>
<path d="M370.1,932.9H376.9M373.5,929.5V936.3" stroke="#F7D122" stroke-width="2" fill="none"/>
<path d="M425.7,928.2H432.5M429.1,924.8V931.6" stroke="#F7D122" stroke-width="2" fill="none"/>
<path d="M481.3,923.8H488.1M484.7,920.4V927.2" stroke="#F7D122" stroke-width="2" fill="none"/>
<path d="M536.9,919.5H543.7M540.3,916.1V922.9" stroke="#F7D122" stroke-width="2" fill="none"/>
<path d="M592.5,916.5H599.3M595.9,913.1V919.9" stroke="#F7D122" stroke-width="2" fill="none"/>
<path d="M648.1,914.4H654.9M651.5,911.0V917.8" stroke="#F7D122" stroke-width="2" fill="none"/>
<polyline points="151.1,992.0 206.7,955.1 262.3,945.3 317.9,935.0 373.5,926.7 429.1,922.5 484.7,920.3 540.3,919.5 595.9,918.3 651.5,917.5" fill="none" stroke="#A5A5A5" stroke-width="1.8" stroke-linejoin="round"/>
<path d="M151.1,988.4L154.7,994.7L147.5,994.7Z" fill="#A5A5A5"/>
<path d="M206.7,951.5L210.3,957.8L203.1,957.8Z" fill="#A5A5A5"/>
<path d="M262.3,941.7L265.9,948.0L258.7,948.0Z" fill="#A5A5A5"/>
<path d="M317.9,931.4L321.5,937.7L314.3,937.7Z" fill="#A5A5A5"/>
<path d="M373.5,923.1L377.1,929.4L369.9,929.4Z" fill="#A5A5A5"/>
<path d="M429.1,918.9L432.7,925.2L425.5,925.2Z" fill="#A5A5A5"/>
<path d="M484.7,916.7L488.3,923.0L481.1,923.0Z" fill="#A5A5A5"/>
<path d="M540.3,915.9L543.9,922.2L536.7,922.2Z" fill="#A5A5A5"/>
<path d="M595.9,914.7L599.5,921.0L592.3,921.0Z" fill="#A5A5A5"/>
<path d="M651.5,913.9L655.1,920.2L647.9,920.2Z" fill="#A5A5A5"/>
<polyline points="151.1,912.3 206.7,907.3 262.3,906.6 317.9,905.8 373.5,905.4 429.1,904.5 484.7,904.5 540.3,904.3 595.9,904.3 651.5,904.3" fill="none" stroke="#000000" stroke-width="1.8" stroke-linejoin="round"/>
<circle cx="151.1" cy="912.3" r="4.10" fill="#000"/>
<circle cx="206.7" cy="907.3" r="4.10" fill="#000"/>
<circle cx="262.3" cy="906.6" r="4.10" fill="#000"/>
<circle cx="317.9" cy="905.8" r="4.10" fill="#000"/>
<circle cx="373.5" cy="905.4" r="4.10" fill="#000"/>
<circle cx="429.1" cy="904.5" r="4.10" fill="#000"/>
<circle cx="484.7" cy="904.5" r="4.10" fill="#000"/>
<circle cx="540.3" cy="904.3" r="4.10" fill="#000"/>
<circle cx="595.9" cy="904.3" r="4.10" fill="#000"/>
<circle cx="651.5" cy="904.3" r="4.10" fill="#000"/>
<rect x="481" y="1065.2" width="170.2" height="203.2" fill="#fff" stroke="#7A7A7A" stroke-width="1.5"/>
<line x1="498" y1="1086.5" x2="530.7" y2="1086.5" stroke="#EE7A2E" stroke-width="1.8"/>
<path d="M510.8,1082.9L518.0,1090.1M510.8,1090.1L518.0,1082.9M514.4,1082.4L514.4,1090.6" stroke="#EE7A2E" stroke-width="1.6" fill="none"/>
<text x="535.3" y="1093.1" class="lg" textLength="68.6" lengthAdjust="spacingAndGlyphs">AlexNet</text>
<line x1="498" y1="1126.8" x2="530.7" y2="1126.8" stroke="#2A52C3" stroke-width="1.8"/>
<rect x="510.6" y="1125.2" width="7.6" height="3.2" fill="#2A52C3"/>
<text x="535.3" y="1133.4" class="lg" textLength="61.6" lengthAdjust="spacingAndGlyphs">VGG19</text>
<line x1="498" y1="1167.4" x2="530.7" y2="1167.4" stroke="#F7D122" stroke-width="1.8"/>
<path d="M510.4,1167.4H518.3M514.4,1163.4V1171.4" stroke="#F7D122" stroke-width="2" fill="none"/>
<text x="535.3" y="1174.0" class="lg" textLength="98.9" lengthAdjust="spacingAndGlyphs">GoogLeNet</text>
<line x1="498" y1="1208.5" x2="530.7" y2="1208.5" stroke="#A5A5A5" stroke-width="1.8"/>
<path d="M514.4,1204.7L518.2,1211.4L510.5,1211.4Z" fill="#A5A5A5"/>
<text x="535.3" y="1215.1" class="lg" textLength="86.6" lengthAdjust="spacingAndGlyphs">ResNet18</text>
<line x1="498" y1="1249.4" x2="530.7" y2="1249.4" stroke="#000000" stroke-width="1.8"/>
<circle cx="514.4" cy="1249.4" r="3.80" fill="#000"/>
<text x="535.3" y="1256.0" class="lg" textLength="77.3" lengthAdjust="spacingAndGlyphs">FFANet1</text>
<text x="75.5" y="911.5" class="tk" text-anchor="end">100</text>
<text x="75.5" y="1002.8" class="tk" text-anchor="end">90</text>
<text x="75.5" y="1094.0" class="tk" text-anchor="end">80</text>
<text x="75.5" y="1185.2" class="tk" text-anchor="end">70</text>
<text x="75.5" y="1276.5" class="tk" text-anchor="end">60</text>
<text x="95.5" y="1305.3" class="tk" text-anchor="middle">0</text>
<text x="206.7" y="1305.3" class="tk" text-anchor="middle">2</text>
<text x="317.9" y="1305.3" class="tk" text-anchor="middle">4</text>
<text x="429.1" y="1305.3" class="tk" text-anchor="middle">6</text>
<text x="540.3" y="1305.3" class="tk" text-anchor="middle">8</text>
<text x="651.5" y="1305.3" class="tk" text-anchor="middle">10</text>
<text transform="translate(19,1089.5) rotate(-90)" class="ax" text-anchor="middle" textLength="131" lengthAdjust="spacingAndGlyphs">Accuracy(%)</text>
<text x="636.8" y="1327.3" class="rk" textLength="46" lengthAdjust="spacingAndGlyphs">rank</text>
<text x="365.7" y="1336.2" class="cap">(c)</text>
</svg>
</body></html>
